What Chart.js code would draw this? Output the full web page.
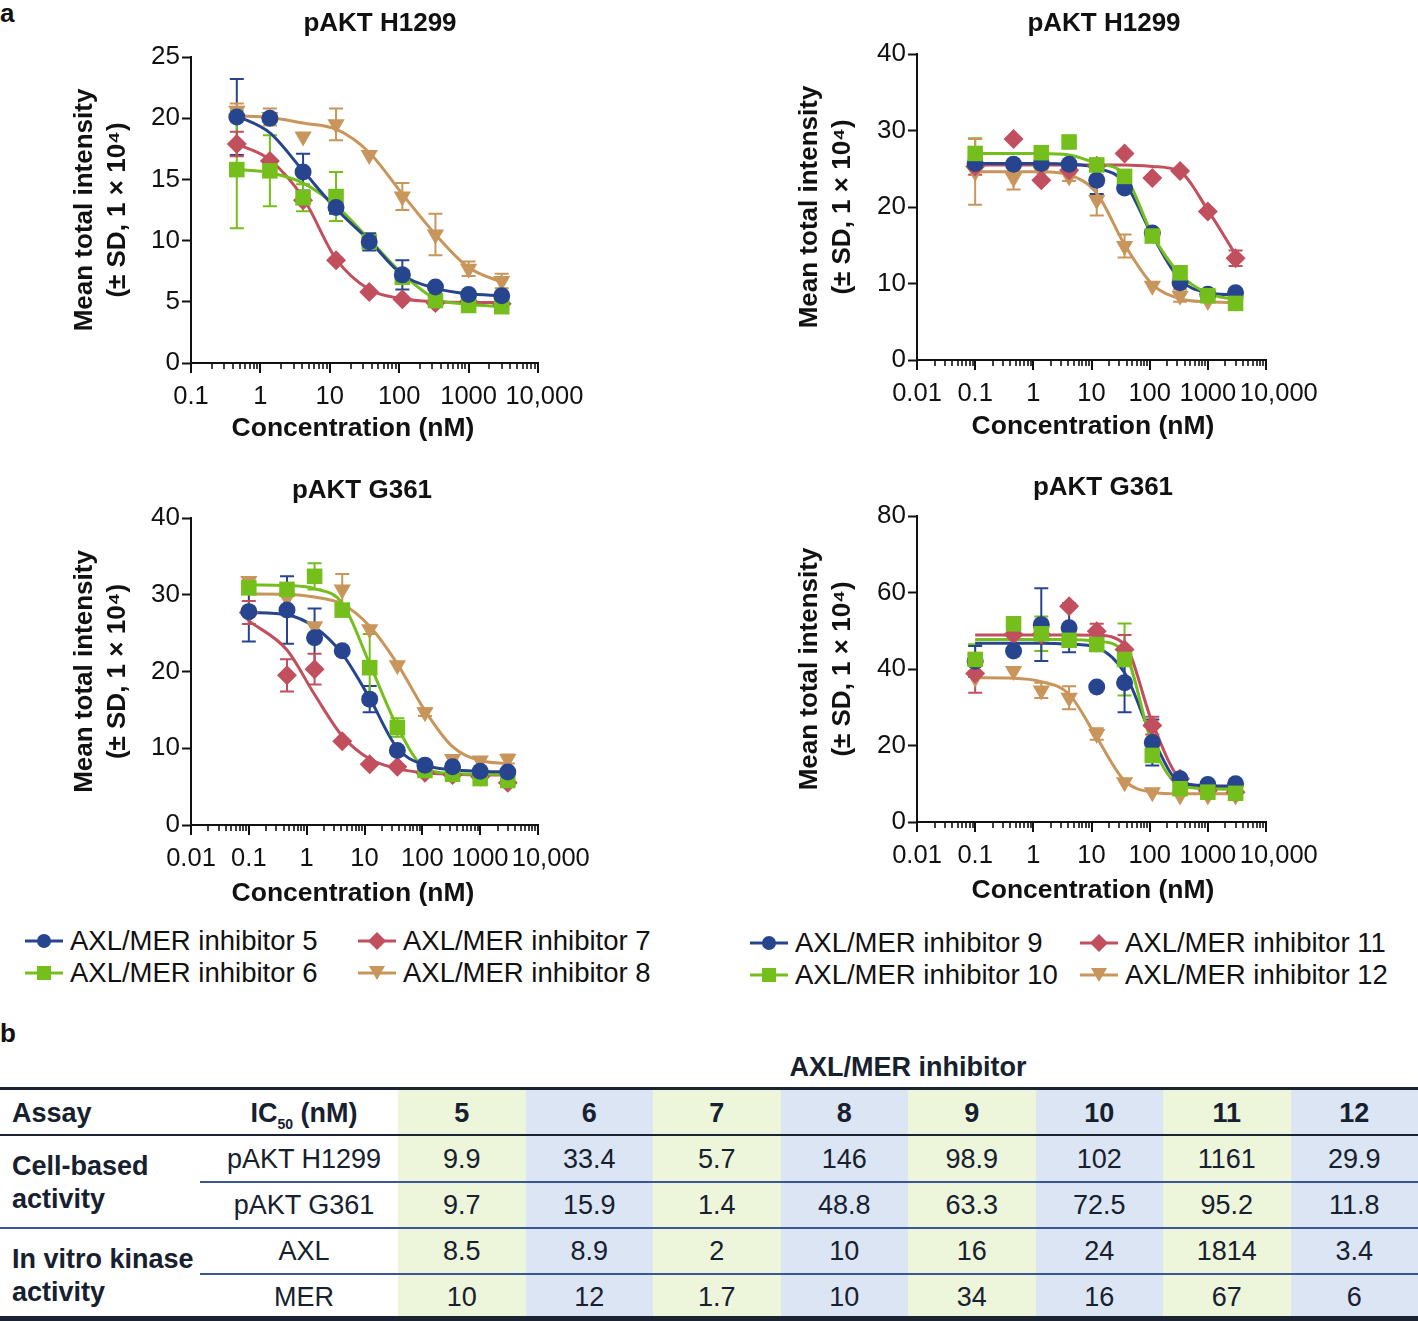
<!DOCTYPE html>
<html>
<head>
<meta charset="utf-8">
<title>AXL/MER inhibitors - pAKT dose response</title>
<script src="https://cdn.jsdelivr.net/npm/chart.js"></script>
<style>
  body { margin: 0; width: 1418px; height: 1321px; position: relative; overflow: hidden; background: #fff;
         font-family: "Liberation Sans", Arial, sans-serif; color: #111; }
  canvas { position: absolute; }
  .lbl { position: absolute; font-weight: bold; font-size: 26px; line-height: 26px; }
  .leg { position: absolute; display: grid; grid-auto-rows: 32px; font-size: 27.5px; color: #111; }
  .leg div { display: flex; align-items: center; white-space: nowrap; }
  .leg svg { margin-right: 7px; flex: none; }
  .cell { position: absolute; display: flex; align-items: center; justify-content: center;
          font-size: 27px; color: #17202e; white-space: nowrap; height: 40px; }
  .bar { position: absolute; }
  sub { font-size: 14px; vertical-align: -7px; line-height: 0; }
</style>
</head>
<body>
<div class="lbl" style="left:0;top:0">a</div>
<div class="lbl" style="left:0;top:1020px">b</div>
<div id="legLeft" class="leg" style="left:25px;top:925px;grid-template-columns:333px 330px"></div>
<div id="legRight" class="leg" style="left:750px;top:927px;grid-template-columns:330px 330px"></div>
<div id="table"></div>

<script>
// ---- data ----
const doses = [0.1, 0.457, 1.37, 4.12, 12.3, 37, 111, 333, 1000, 3000]; // nM
const xDecades = [0.01, 0.1, 1, 10, 100, 1000, 10000];
const xDecadeLabels = ['0.01', '0.1', '1', '10', '100', '1000', '10,000'];
const inhibitorNames = ['AXL/MER inhibitor 5', 'AXL/MER inhibitor 6', 'AXL/MER inhibitor 7', 'AXL/MER inhibitor 8',
                        'AXL/MER inhibitor 9', 'AXL/MER inhibitor 10', 'AXL/MER inhibitor 11', 'AXL/MER inhibitor 12'];

// pAKT H1299, inhibitors 5-8 (no 0.1 nM point)
const h1299Inh5 = [null, 20.1, 20.0, 15.6, 12.7, 9.9, 7.2, 6.2, 5.6, 5.5];
const h1299Inh5Sd = [0, 3.1, 0, 1.5, 0.5, 0.7, 1.2, 0, 0, 0];
const h1299Inh5Fit = [null, 20.2, 18.8, 15.7, 12.6, 10.0, 7.2, 6.1, 5.65, 5.5];
const h1299Inh6 = [null, 15.8, 15.7, 13.5, 13.6, 9.9, 7.0, 5.1, 4.7, 4.6];
const h1299Inh6Sd = [0, 4.8, 2.9, 1.1, 2.0, 0.5, 0, 0, 0, 0];
const h1299Inh6Fit = [null, 15.8, 15.55, 14.7, 12.85, 10.1, 7.3, 5.25, 4.8, 4.6];
const h1299Inh7 = [null, 17.9, 16.5, 13.3, 8.4, 5.8, 5.2, 4.9, 5.0, 4.85];
const h1299Inh7Sd = [0, 1.0, 0, 0, 0, 0, 0, 0, 0, 0];
const h1299Inh7Fit = [null, 17.9, 16.6, 13.5, 8.5, 6.0, 5.25, 5.0, 4.95, 4.95];
const h1299Inh8 = [null, 20.6, 20.1, 18.5, 19.5, 17.0, 13.6, 10.5, 7.7, 6.7];
const h1299Inh8Sd = [0, 0.6, 0.7, 0, 1.3, 0, 1.1, 1.7, 0.6, 0.6];
const h1299Inh8Fit = [null, 20.2, 20.05, 19.6, 19.1, 17.2, 13.8, 10.5, 7.8, 6.6];

// pAKT H1299, inhibitors 9-12
const h1299Inh9 = [25.7, 25.6, 25.7, 25.6, 23.5, 22.5, 16.6, 10.1, 8.6, 8.8];
const h1299Inh9Sd = [0, 0, 0, 0, 1.8, 0, 0, 0, 0, 0];
const h1299Inh9Fit = [25.7, 25.7, 25.7, 25.6, 25.1, 23.2, 16.3, 10.5, 8.8, 8.5];
const h1299Inh10 = [27.0, null, 27.1, 28.5, 25.5, 24.0, 16.2, 11.4, 8.4, 7.4];
const h1299Inh10Sd = [2.0, 0, 0, 0, 0, 0, 0, 0, 0, 0];
const h1299Inh10Fit = [27.0, 27.0, 27.0, 26.8, 25.7, 24.2, 16.4, 11.2, 8.7, 7.9];
const h1299Inh11 = [25.3, 28.9, 23.5, 24.8, 25.4, 27.0, 23.8, 24.7, 19.4, 13.3];
const h1299Inh11Sd = [1.1, 0, 0, 0, 0, 0, 0, 0, 0, 1.0];
const h1299Inh11Fit = [25.5, 25.5, 25.5, 25.5, 25.5, 25.5, 25.3, 24.6, 19.6, 13.8];
const h1299Inh12 = [24.6, 23.8, 24.6, 24.0, 20.9, 14.9, 9.7, 8.4, 7.7, 7.6];
const h1299Inh12Sd = [4.3, 1.5, 0, 0.6, 2.0, 1.5, 0, 0.8, 0, 0];
const h1299Inh12Fit = [24.6, 24.6, 24.6, 24.2, 21.8, 15.1, 9.9, 8.0, 7.6, 7.5];

// pAKT G361, inhibitors 5-8
const g361Inh5 = [27.8, 28.0, 24.4, 22.7, 16.4, 9.7, 7.8, 7.6, 7.0, 6.9];
const g361Inh5Sd = [3.9, 4.4, 3.8, 0, 1.7, 0, 0, 0, 0, 0];
const g361Inh5Fit = [27.7, 27.4, 25.8, 22.3, 16.5, 10.0, 7.8, 7.2, 7.0, 6.9];
const g361Inh6 = [30.9, 30.7, 32.4, 28.0, 20.5, 12.7, 7.1, 6.6, 6.05, 5.8];
const g361Inh6Sd = [0, 0, 1.7, 0, 4.4, 1.2, 0, 0, 0, 0];
const g361Inh6Fit = [31.3, 31.2, 30.8, 28.9, 21.0, 12.8, 7.4, 6.7, 6.6, 6.6];
const g361Inh7 = [27.7, 19.5, 20.3, 10.9, 7.9, 7.6, 6.8, 6.5, 6.3, 5.5];
const g361Inh7Sd = [1.5, 2.1, 2.0, 0, 0, 0, 0, 0, 0, 0];
const g361Inh7Fit = [26.6, 22.8, 17.0, 11.6, 8.6, 7.35, 6.8, 6.6, 6.5, 6.5];
const g361Inh8 = [31.8, 29.6, 25.9, 30.7, 25.5, 20.8, 14.7, 8.6, 8.4, 8.6];
const g361Inh8Sd = [0, 0, 0, 2.0, 0, 0, 0.5, 0, 0, 0.6];
const g361Inh8Fit = [30.1, 30.05, 29.7, 28.8, 25.9, 21.0, 14.9, 10.2, 8.4, 8.0];

// pAKT G361, inhibitors 9-12
const g361Inh9 = [42.0, 44.7, 51.6, 50.8, 35.3, 36.4, 20.8, 11.3, 9.8, 10.0];
const g361Inh9Sd = [4.0, 0, 9.5, 6.4, 0, 7.7, 6.0, 0, 0, 0];
const g361Inh9Fit = [46.7, 46.7, 46.7, 46.5, 45.6, 39.0, 22.1, 10.4, 9.5, 9.4];
const g361Inh10 = [42.5, 51.8, 49.2, 47.5, 46.4, 42.5, 17.4, 8.7, 7.8, 7.5];
const g361Inh10Sd = [4.0, 1.5, 4.5, 0, 0, 9.4, 0, 0, 0, 0];
const g361Inh10Fit = [47.7, 47.7, 47.7, 47.7, 47.3, 44.3, 20.4, 9.5, 8.7, 8.5];
const g361Inh11 = [38.8, 49.0, 49.0, 56.4, 49.9, 45.1, 25.2, 11.3, 8.2, 7.8];
const g361Inh11Sd = [5.0, 4.5, 0, 0, 1.9, 3.8, 2.3, 0, 0, 0];
const g361Inh11Fit = [48.9, 48.9, 48.9, 48.9, 48.8, 46.4, 26.0, 11.3, 9.1, 8.9];
const g361Inh12 = [37.7, 39.5, 34.4, 32.5, 23.0, 10.4, 7.8, 6.9, 6.9, 6.9];
const g361Inh12Sd = [0, 0, 2.0, 3.0, 1.5, 0, 0, 0, 0, 0];
const g361Inh12Fit = [37.7, 37.6, 36.7, 33.4, 22.1, 10.8, 7.8, 7.4, 7.4, 7.4];

// table b: IC50 (nM)
const tableInhibitors = ['5', '6', '7', '8', '9', '10', '11', '12'];
const ic50H1299 = ['9.9', '33.4', '5.7', '146', '98.9', '102', '1161', '29.9'];
const ic50G361 = ['9.7', '15.9', '1.4', '48.8', '63.3', '72.5', '95.2', '11.8'];
const ic50Axl = ['8.5', '8.9', '2', '10', '16', '24', '1814', '3.4'];
const ic50Mer = ['10', '12', '1.7', '10', '34', '16', '67', '6'];

// ---- styles ----
// kind 0 blue circle, 1 green square, 2 red diamond, 3 tan down-triangle
const seriesColors = ['#27448f', '#74bf1c', '#c24f5e', '#c8955a'];
const markerStyles = ['circle', 'rect', 'rectRot', 'triangle'];
const markerRotations = [0, 0, 0, 180];
const markerRadii = [8.5, 11, 10, 10];

Chart.defaults.font.family = '"Liberation Sans", Arial, sans-serif';
Chart.defaults.color = '#111';

const panelBoxes = [
  { left: 60,  top: 0,   width: 560, height: 450, plot: [191, 57, 538, 363],  title: [380, 24],  yTitleX: 85,  xTitle: [353, 429],  lastPad: 1 },
  { left: 780, top: 0,   width: 560, height: 450, plot: [917, 54, 1266, 360], title: [1104, 24], yTitleX: 810, xTitle: [1093, 427], lastPad: 2 },
  { left: 60,  top: 470, width: 560, height: 440, plot: [191, 518, 538, 825], title: [362, 491], yTitleX: 85,  xTitle: [353, 894],  lastPad: 2 },
  { left: 780, top: 470, width: 560, height: 440, plot: [917, 516, 1266, 822], title: [1103, 488], yTitleX: 810, xTitle: [1093, 891], lastPad: 2 }
];

const panels = [
  { title: 'pAKT H1299', xMin: 0.1, yMax: 25, yStep: 5, series: [
    { kind: 0, name: inhibitorNames[0], values: h1299Inh5, sd: h1299Inh5Sd, fit: h1299Inh5Fit },
    { kind: 1, name: inhibitorNames[1], values: h1299Inh6, sd: h1299Inh6Sd, fit: h1299Inh6Fit },
    { kind: 2, name: inhibitorNames[2], values: h1299Inh7, sd: h1299Inh7Sd, fit: h1299Inh7Fit },
    { kind: 3, name: inhibitorNames[3], values: h1299Inh8, sd: h1299Inh8Sd, fit: h1299Inh8Fit } ] },
  { title: 'pAKT H1299', xMin: 0.01, yMax: 40, yStep: 10, series: [
    { kind: 1, name: inhibitorNames[5], values: h1299Inh10, sd: h1299Inh10Sd, fit: h1299Inh10Fit },
    { kind: 0, name: inhibitorNames[4], values: h1299Inh9, sd: h1299Inh9Sd, fit: h1299Inh9Fit },
    { kind: 2, name: inhibitorNames[6], values: h1299Inh11, sd: h1299Inh11Sd, fit: h1299Inh11Fit },
    { kind: 3, name: inhibitorNames[7], values: h1299Inh12, sd: h1299Inh12Sd, fit: h1299Inh12Fit } ] },
  { title: 'pAKT G361', xMin: 0.01, yMax: 40, yStep: 10, series: [
    { kind: 0, name: inhibitorNames[0], values: g361Inh5, sd: g361Inh5Sd, fit: g361Inh5Fit },
    { kind: 1, name: inhibitorNames[1], values: g361Inh6, sd: g361Inh6Sd, fit: g361Inh6Fit },
    { kind: 2, name: inhibitorNames[2], values: g361Inh7, sd: g361Inh7Sd, fit: g361Inh7Fit },
    { kind: 3, name: inhibitorNames[3], values: g361Inh8, sd: g361Inh8Sd, fit: g361Inh8Fit } ] },
  { title: 'pAKT G361', xMin: 0.01, yMax: 80, yStep: 20, series: [
    { kind: 1, name: inhibitorNames[5], values: g361Inh10, sd: g361Inh10Sd, fit: g361Inh10Fit },
    { kind: 0, name: inhibitorNames[4], values: g361Inh9, sd: g361Inh9Sd, fit: g361Inh9Fit },
    { kind: 2, name: inhibitorNames[6], values: g361Inh11, sd: g361Inh11Sd, fit: g361Inh11Fit },
    { kind: 3, name: inhibitorNames[7], values: g361Inh12, sd: g361Inh12Sd, fit: g361Inh12Fit } ] }
];

// ---- plugins ----
const errorBars = {
  id: 'errorBars',
  beforeDatasetsDraw(chart) {
    const { ctx, scales: { x, y } } = chart;
    chart.data.datasets.forEach(ds => {
      if (ds.showLine) return;
      ctx.save();
      ctx.strokeStyle = ds.pointBackgroundColor;
      ctx.lineWidth = 2;
      ds.data.forEach(p => {
        if (!p.sd) return;
        const px = x.getPixelForValue(p.x);
        const top = y.getPixelForValue(p.y + p.sd);
        const bot = y.getPixelForValue(p.y - p.sd);
        ctx.beginPath();
        ctx.moveTo(px, top); ctx.lineTo(px, bot);
        ctx.moveTo(px - 7, top); ctx.lineTo(px + 7, top);
        ctx.moveTo(px - 7, bot); ctx.lineTo(px + 7, bot);
        ctx.stroke();
      });
      ctx.restore();
    });
  }
};

// log axis tick marks: long at decades, short in between
const logTicks = {
  id: 'logTicks',
  afterDraw(chart) {
    const sc = chart.scales.x, ctx = chart.ctx;
    ctx.save();
    ctx.strokeStyle = '#111';
    sc.ticks.forEach(t => {
      const px = Math.round(sc.getPixelForValue(t.value));
      ctx.lineWidth = t.major ? 2 : 1.6;
      ctx.beginPath();
      ctx.moveTo(px, sc.top);
      ctx.lineTo(px, sc.top + (t.major ? 10 : 6));
      ctx.stroke();
    });
    ctx.restore();
  }
};

// panel title and x-axis title placed where the figure has them
const panelTitle = {
  id: 'panelTitle',
  afterDraw(chart, args, opts) {
    const ctx = chart.ctx;
    ctx.save();
    ctx.font = 'bold 26px "Liberation Sans", Arial, sans-serif';
    ctx.fillStyle = '#111';
    ctx.textAlign = 'center';
    ctx.textBaseline = 'middle';
    ctx.fillText(opts.text, opts.x, opts.y);
    ctx.font = 'bold 26.5px "Liberation Sans", Arial, sans-serif';
    ctx.fillText(opts.xText, opts.xx, opts.xy);
    ctx.restore();
  }
};

function toPoints(values, sd) {
  return doses.map((d, k) => ({ x: d, y: values[k], sd: sd ? sd[k] : 0 })).filter(p => p.y != null);
}

function decadeIndex(v) {
  return xDecades.findIndex(d => Math.abs(Math.log10(d) - Math.log10(v)) < 1e-6);
}

panels.forEach((panel, i) => {
  const box = panelBoxes[i];
  const [pl, pt, pr, pb] = box.plot;
  const canvas = document.createElement('canvas');
  canvas.width = box.width;
  canvas.height = box.height;
  canvas.style.left = box.left + 'px';
  canvas.style.top = box.top + 'px';
  document.body.appendChild(canvas);

  const datasets = [];
  panel.series.forEach(s => {
    datasets.push({
      label: s.name,
      data: toPoints(s.values, s.sd),
      showLine: false,
      pointStyle: markerStyles[s.kind],
      pointRotation: markerRotations[s.kind],
      pointRadius: markerRadii[s.kind],
      pointBackgroundColor: seriesColors[s.kind],
      pointBorderColor: seriesColors[s.kind],
      pointBorderWidth: 0,
      order: 0
    });
  });
  panel.series.forEach(s => {
    datasets.push({
      label: s.name + ' fit',
      data: toPoints(s.fit),
      showLine: true,
      borderColor: seriesColors[s.kind],
      borderWidth: 3,
      pointRadius: 0,
      cubicInterpolationMode: 'monotone',
      fill: false,
      order: 1
    });
  });

  const lh = 33;
  new Chart(canvas.getContext('2d'), {
    type: 'scatter',
    data: { datasets },
    plugins: [errorBars, logTicks, panelTitle],
    options: {
      responsive: false,
      animation: false,
      events: [],
      layout: { padding: { left: 0, top: pt - box.top, right: box.left + box.width - pr, bottom: 0 } },
      plugins: {
        legend: { display: false },
        tooltip: { enabled: false },
        panelTitle: {
          text: panel.title, x: box.title[0] - box.left, y: box.title[1] - box.top,
          xText: 'Concentration (nM)', xx: box.xTitle[0] - box.left, xy: box.xTitle[1] - box.top
        }
      },
      scales: {
        x: {
          type: 'logarithmic',
          min: panel.xMin,
          max: 10000,
          grid: { display: true, drawOnChartArea: false, drawTicks: false },
          border: { display: true, color: '#111', width: 2 },
          ticks: {
            autoSkip: false, maxRotation: 0, padding: 19, color: '#111', font: { size: 25.5 },
            callback: (v) => {
              const k = decadeIndex(v);
              if (k < 0) return '';
              return (k === xDecades.length - 1 ? '\u2002'.repeat(box.lastPad) : '') + xDecadeLabels[k];
            }
          },
          afterBuildTicks: (scale) => {
            const ticks = [];
            const e0 = Math.round(Math.log10(panel.xMin)), e1 = Math.round(Math.log10(10000));
            for (let e = e0; e < e1; e++) {
              for (let m = 1; m < 10; m++) ticks.push({ value: m * Math.pow(10, e), major: m === 1 });
            }
            ticks.push({ value: 10000, major: true });
            scale.ticks = ticks;
          },
          afterFit: (s) => { s.height = box.top + box.height - pb; },
          title: { display: false }
        },
        y: {
          min: 0,
          max: panel.yMax,
          ticks: { stepSize: panel.yStep, padding: 2, color: '#111', font: { size: 26 } },
          grid: { display: true, drawOnChartArea: false, drawTicks: true, tickLength: 9, tickWidth: 2, tickColor: '#111' },
          border: { display: true, color: '#111', width: 2 },
          afterFit: (s) => { s.width = pl - box.left; },
          title: {
            display: true, text: ['Mean total intensity', '(± SD, 1 × 10⁴)'], color: '#111',
            font: { size: 26, weight: 'bold', lineHeight: lh / 26 },
            padding: { top: box.yTitleX - box.left - lh / 2, bottom: 0 }
          }
        }
      }
    }
  });
});

// ---- legends (HTML, same colours/markers as the charts) ----
function legendIcon(kind) {
  const c = seriesColors[kind];
  const shapes = [
    `<circle cx="19" cy="10" r="7" fill="${c}"/>`,
    `<rect x="12" y="3" width="14" height="14" fill="${c}"/>`,
    `<polygon points="19,1 28,10 19,19 10,10" fill="${c}"/>`,
    `<polygon points="11,3 27,3 19,17" fill="${c}"/>`
  ];
  return `<svg width="38" height="20" viewBox="0 0 38 20"><line x1="0" y1="10" x2="38" y2="10" stroke="${c}" stroke-width="3"/>${shapes[kind]}</svg>`;
}
function fillLegend(id, nameOffset) {
  // row-major grid: 5,7 / 6,8
  const order = [0, 2, 1, 3];
  document.getElementById(id).innerHTML = order
    .map(k => `<div>${legendIcon(k)}<span>${inhibitorNames[nameOffset + k]}</span></div>`).join('');
}
fillLegend('legLeft', 0);
fillLegend('legRight', 4);

// ---- table b ----
(function buildTable() {
  const t = document.getElementById('table');
  const colL = 398, colW = 127.5, dark = '#1b2232', blue = '#3a5794';
  const bgs = ['#edf5da', '#dce5f3'];
  let html = '';
  const bar = (x, y, w, h, c) => { html += `<div class="bar" style="left:${x}px;top:${y}px;width:${w}px;height:${h}px;background:${c}"></div>`; };
  const cell = (text, cx, cy, bold, w) => {
    w = w || 200;
    html += `<div class="cell" style="left:${cx - w / 2}px;top:${cy - 20}px;width:${w}px;font-weight:${bold ? 'bold' : 'normal'}"><span>${text}</span></div>`;
  };
  const leftText = (lines, x, y0) => {
    html += `<div class="cell" style="left:${x}px;top:${y0 - 16.5}px;height:auto;display:block;line-height:33px;font-weight:bold">${lines.join('<br>')}</div>`;
  };
  for (let k = 0; k < 8; k++) bar(colL + k * colW, 1089, colW, 228, bgs[k % 2]);
  bar(0, 1087, 1418, 3, dark);
  bar(0, 1134, 1418, 2, dark);
  bar(200, 1181, 1218, 2, blue);
  bar(0, 1227, 1418, 2, blue);
  bar(200, 1273, 1218, 2, blue);
  bar(0, 1316, 1418, 5, dark);

  cell('AXL/MER inhibitor', 908, 1067, true, 400);
  html += `<div class="cell" style="left:12px;top:1093px;font-weight:bold">Assay</div>`;
  cell('IC<sub>50</sub> (nM)', 304, 1113, true);
  const rows = [['pAKT H1299', ic50H1299, 1159], ['pAKT G361', ic50G361, 1205], ['AXL', ic50Axl, 1251], ['MER', ic50Mer, 1297]];
  tableInhibitors.forEach((n, k) => cell(n, colL + (k + 0.5) * colW, 1113, true, colW));
  rows.forEach(([label, vals, cy]) => {
    cell(label, 304, cy, false);
    vals.forEach((v, k) => cell(v, colL + (k + 0.5) * colW, cy, false, colW));
  });
  leftText(['Cell-based', 'activity'], 12, 1166);
  leftText(['In vitro kinase', 'activity'], 12, 1259);
  t.innerHTML = html;
})();
</script>
</body>
</html>
